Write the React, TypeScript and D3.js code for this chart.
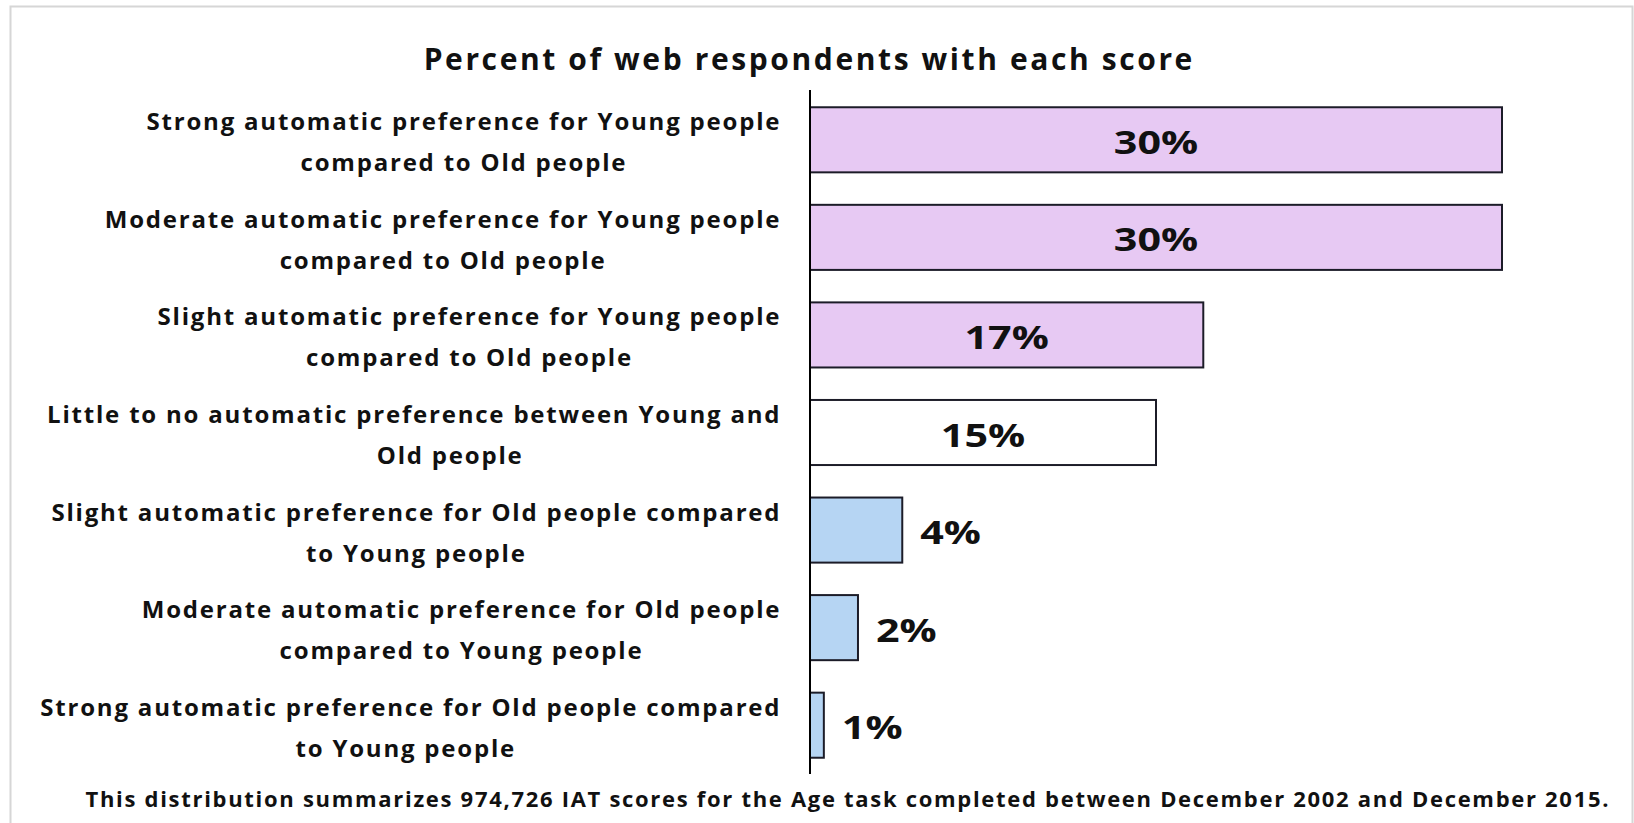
import React, { useEffect, useRef } from "react";
import * as d3 from "d3";

const categories: string[][] = [
  ["Strong automatic preference for Young people", "compared to Old people"],
  ["Moderate automatic preference for Young people", "compared to Old people"],
  ["Slight automatic preference for Young people", "compared to Old people"],
  ["Little to no automatic preference between Young and", "Old people"],
  ["Slight automatic preference for Old people compared", "to Young people"],
  ["Moderate automatic preference for Old people", "compared to Young people"],
  ["Strong automatic preference for Old people compared", "to Young people"],
];
const values: number[] = [30, 30, 17.05, 15, 4, 2.08, 0.6];
const valueLabels: string[] = ["30%", "30%", "17%", "15%", "4%", "2%", "1%"];
const groups: string[] = ["young", "young", "young", "neutral", "old", "old", "old"];
const title = "Percent of web respondents with each score";
const footnote =
  "This distribution summarizes 974,726 IAT scores for the Age task completed between December 2002 and December 2015.";

const W = 1634;
const H = 823;
const FONT = "'Open Sans', 'Noto Sans', sans-serif";
const fillFor: Record<string, string> = {
  young: "#E7C9F3",
  neutral: "#FFFFFF",
  old: "#B6D5F3",
};
// horizontal nudge of individual wrapped lines, as in the original layout
const lineNudge: Record<string, number> = { "3-1": 36, "6-1": -5 };

export default function App() {
  const ref = useRef<SVGSVGElement | null>(null);

  useEffect(() => {
    const svg = d3.select(ref.current);
    svg.selectAll("*").remove();

    const x0 = 810;
    const x = d3.scaleLinear().domain([0, 30]).range([x0, 1502]);
    const y = d3
      .scaleBand<number>()
      .domain(d3.range(categories.length))
      .range([91, 774])
      .paddingInner(0.333)
      .paddingOuter(0.1667);

    // frame
    svg
      .append("rect")
      .attr("x", 10.5)
      .attr("y", 6.5)
      .attr("width", 1622)
      .attr("height", 840)
      .attr("fill", "#fff")
      .attr("stroke", "#d6d6d6")
      .attr("stroke-width", 2);

    // title
    svg
      .append("text")
      .attr("x", 808 + 1.3)
      .attr("y", 70)
      .attr("text-anchor", "middle")
      .attr("font-family", FONT)
      .attr("font-weight", 700)
      .attr("font-size", 30)
      .attr("letter-spacing", 2.6)
      .attr("fill", "#111")
      .text(title);

    // bars
    svg
      .append("g")
      .selectAll("rect")
      .data(values)
      .join("rect")
      .attr("x", x0)
      .attr("y", (_, i) => y(i)!)
      .attr("width", (d) => x(d) - x0)
      .attr("height", y.bandwidth())
      .attr("fill", (_, i) => fillFor[groups[i]])
      .attr("stroke", "#1c1c28")
      .attr("stroke-width", 2);

    // axis line
    svg
      .append("line")
      .attr("x1", x0)
      .attr("x2", x0)
      .attr("y1", 90)
      .attr("y2", 774)
      .attr("stroke", "#000")
      .attr("stroke-width", 2);

    // value labels (horizontally widened to match the original rendering)
    const sx = 1.25;
    svg
      .append("g")
      .selectAll("text")
      .data(values)
      .join("text")
      .attr("transform", (d, i) => {
        const tx = d >= 10 ? (x0 + x(d)) / 2 : x(d) + 18;
        const ty = y(i)! + y.bandwidth() / 2 + 14;
        return `translate(${tx},${ty}) scale(${sx},1)`;
      })
      .attr("text-anchor", (d) => (d >= 10 ? "middle" : "start"))
      .attr("font-family", FONT)
      .attr("font-weight", 700)
      .attr("font-size", 33)
      .attr("fill", "#111")
      .text((_, i) => valueLabels[i]);

    // category labels
    const labelRight = 779.5;
    categories.forEach((lines, i) => {
      const cy = y(i)! + y.bandwidth() / 2;
      const g = svg.append("g");
      const texts = lines.map((ln, j) =>
        g
          .append("text")
          .attr("x", 0)
          .attr("y", cy - 9.5 + j * 41)
          .attr("text-anchor", "middle")
          .attr("font-family", FONT)
          .attr("font-weight", 700)
          .attr("font-size", 24)
          .attr("letter-spacing", 1.8)
          .attr("fill", "#111")
          .text(ln)
      );
      const bb = (g.node() as SVGGElement).getBBox();
      texts.forEach((t, j) => t.attr("x", lineNudge[`${i}-${j}`] ?? 0));
      g.attr("transform", `translate(${labelRight + 1.8 - (bb.x + bb.width)},0)`);
    });

    // footnote
    svg
      .append("text")
      .attr("x", 847 + 0.85)
      .attr("y", 807)
      .attr("text-anchor", "middle")
      .attr("font-family", FONT)
      .attr("font-weight", 700)
      .attr("font-size", 22)
      .attr("letter-spacing", 1.7)
      .attr("fill", "#111")
      .text(footnote);
  }, []);

  return (
    <div style={{ position: "fixed", left: 0, top: 0, width: W, height: H, background: "#fff" }}>
      <svg ref={ref} width={W} height={H} style={{ display: "block" }} />
    </div>
  );
}
